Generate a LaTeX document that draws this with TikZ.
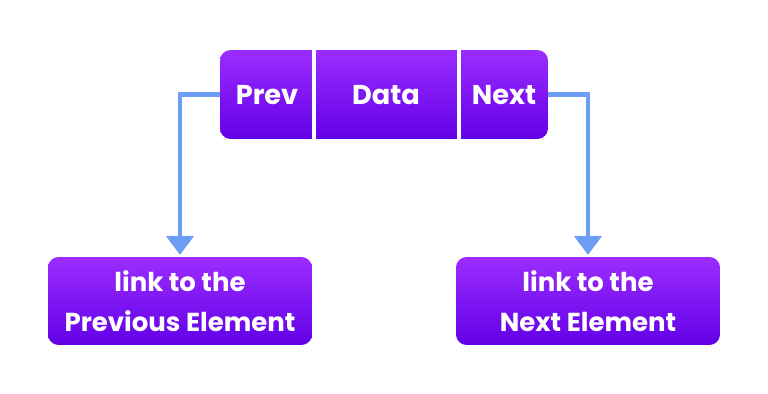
\documentclass[tikz,border=0pt]{standalone}
\usepackage{fontspec}
\setmainfont{Poppins}
\usetikzlibrary{arrows.meta, positioning, calc}
\definecolor{cellTop}{RGB}{155,45,255}
\definecolor{cellBot}{RGB}{98,0,230}
\definecolor{linkBlue}{RGB}{108,158,245}
\tikzstyle{cell} = [
    rectangle, rounded corners=6pt, top color=cellTop, bottom color=cellBot,
    draw=none, text=white, font=\fontsize{14.8}{23}\selectfont\bfseries, align=center
]
\tikzstyle{label} = [text=white, font=\fontsize{15.5}{23}\selectfont\bfseries]
\tikzstyle{divider} = [white, line width=2.5pt]
\tikzstyle{arrow} = [-{Triangle[width=0.54cm, length=0.38cm]}, line width=2.8pt, color=linkBlue, shorten >=1pt]

\begin{document}
\begin{tikzpicture}[x=0.02cm, y=-0.02cm]
    \useasboundingbox (0,0) rectangle (768,394);

    % Node record
    \node[cell, minimum width=6.56cm, minimum height=1.78cm] (rec) at (384,94.5) {};
    \node[label] (prev) at (267,95) {Prev};
    \node[label] (data) at (386,95) {Data};
    \node[label] (next) at (504,95) {Next};

    % Dividers
    \draw[divider] (314,50) -- (314,139);
    \draw[divider] (459,50) -- (459,139);

    % Link boxes
    \node[cell, minimum width=5.28cm, minimum height=1.76cm] (prevlink) at (180,301) {link to the\\Previous Element};
    \node[cell, minimum width=5.28cm, minimum height=1.76cm] (nextlink) at (588,301) {link to the\\Next Element};

    % Link arrows
    \draw[arrow] (rec.west) -| (prevlink.north);
    \draw[arrow] (rec.east) -| (nextlink.north);

\end{tikzpicture}
\end{document}
